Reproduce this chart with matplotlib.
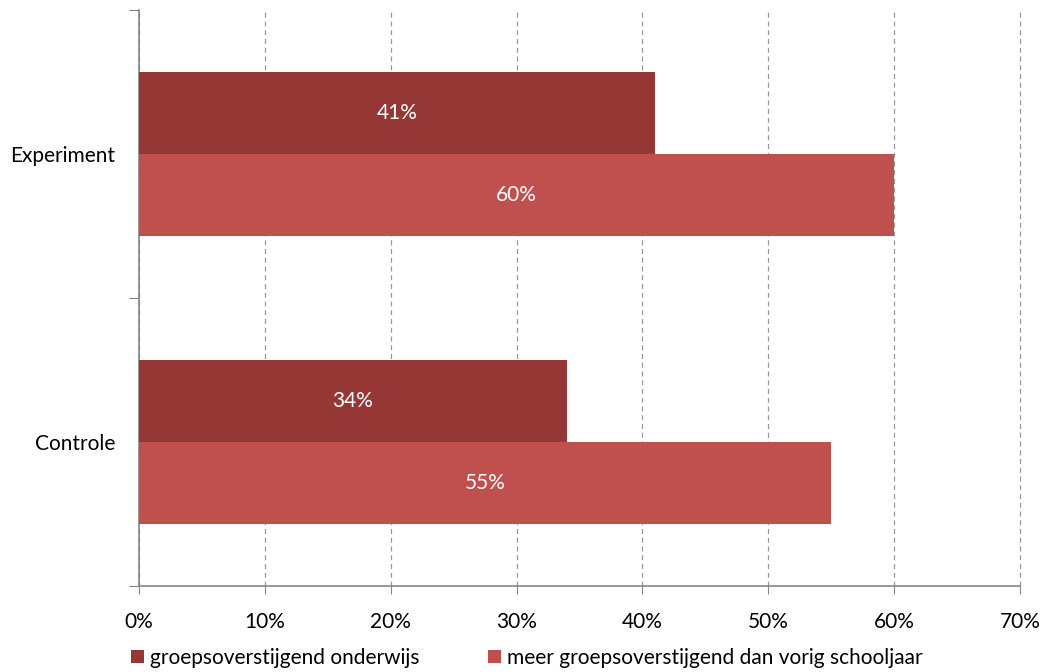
import matplotlib
matplotlib.use("Agg")
import matplotlib.pyplot as plt
from matplotlib.ticker import FixedLocator, NullFormatter

plt.rcParams['font.family'] = ['Lato', 'DejaVu Sans']

categories = ["Controle", "Experiment"]
series_names = ["groepsoverstijgend onderwijs", "meer groepsoverstijgend dan vorig schooljaar"]
groeps = [34, 41]
meer = [55, 60]
xticks = [0, 10, 20, 30, 40, 50, 60, 70]

dark = "#953735"
light = "#C0504D"
FS = 15

fig = plt.figure(figsize=(10.43, 6.72), dpi=100)
ax = fig.add_axes([139/1043, 86/672, (1020-139)/1043, (586-10)/672])

h = 0.285
centers = [0.5 + i for i in range(len(categories))]
ax.barh([c + h/2 for c in centers], groeps, height=h, color=dark, label=series_names[0], zorder=3)
ax.barh([c - h/2 for c in centers], meer, height=h, color=light, label=series_names[1], zorder=3)

for c, v in zip(centers, groeps):
    ax.text(v/2, c + h/2, f"{v}%", color="white", ha="center", va="center", fontsize=FS, zorder=4)
for c, v in zip(centers, meer):
    ax.text(v/2, c - h/2, f"{v}%", color="white", ha="center", va="center", fontsize=FS, zorder=4)

ax.set_xlim(0, 70)
ax.set_ylim(0, len(categories))
ax.set_xticks(xticks)
ax.set_xticklabels([f"{t}%" for t in xticks], fontsize=FS)
ax.yaxis.set_major_locator(FixedLocator([0, 1, 2]))
ax.yaxis.set_major_formatter(NullFormatter())
ax.yaxis.set_minor_locator(FixedLocator(centers))
ax.set_yticklabels(categories, minor=True, fontsize=FS)
ax.tick_params(axis='y', which='minor', length=0, pad=17)
ax.tick_params(axis='y', which='major', length=7, color="#868686")
ax.tick_params(axis='x', length=6, color="#868686", pad=13)

for s in ["top", "right"]:
    ax.spines[s].set_visible(False)
for s in ["left", "bottom"]:
    ax.spines[s].set_color("#868686")
    ax.spines[s].set_linewidth(1.2)

ax.xaxis.grid(True, linestyle=(0, (4, 3)), color="#999999", linewidth=0.9, zorder=0)
ax.set_axisbelow(True)
for gl in ax.get_xgridlines():
    gl.set_clip_on(False)

fig.legend(loc="center left", bbox_to_anchor=(131/1043, 14/672), ncol=2, frameon=False,
           fontsize=FS, handlelength=0.6, handleheight=0.6, handletextpad=0.3,
           columnspacing=3.3, borderaxespad=0.0, borderpad=0.0)

fig.savefig("out.png", dpi=100)
